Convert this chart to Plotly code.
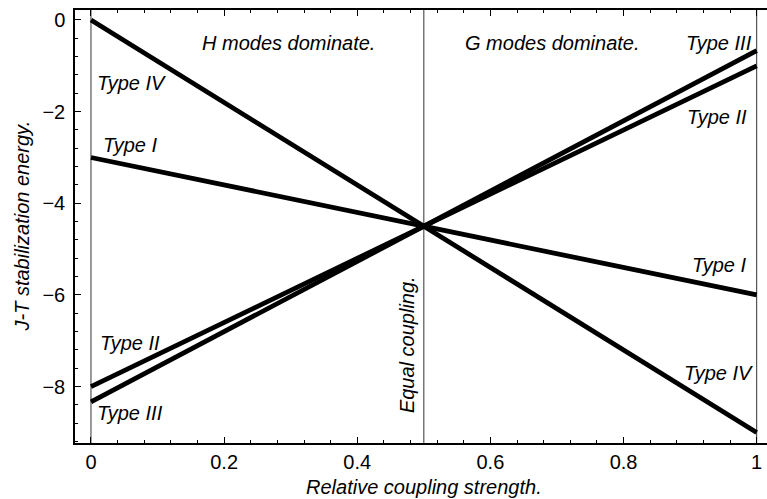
import plotly.graph_objects as go

# Data
x_vals = [0, 0.5, 1]
type_I = [-3, -4.5, -6]
type_II = [-8, -4.5, -1]
type_III = [-8.333, -4.5, -0.667]
type_IV = [0, -4.5, -9]
x_ticks = [0, 0.2, 0.4, 0.6, 0.8, 1]
x_tick_labels = ["0", "0.2", "0.4", "0.6", "0.8", "1"]
y_ticks = [0, -2, -4, -6, -8]
y_tick_labels = ["0", "\u22122", "\u22124", "\u22126", "\u22128"]
vlines_x = [0, 0.5, 1]

FONT = "Liberation Sans, Arial, sans-serif"

fig = go.Figure()

# Vertical reference lines
for vx in vlines_x:
    fig.add_trace(go.Scatter(x=[vx, vx], y=[0.218, -9.23], mode="lines",
                             line=dict(color="#333333", width=1),
                             hoverinfo="skip", showlegend=False))

for ys in [type_I, type_II, type_III, type_IV]:
    fig.add_trace(go.Scatter(x=x_vals, y=ys, mode="lines",
                             line=dict(color="black", width=4.8),
                             showlegend=False))

ann = [
    ("H modes dominate.", 0.296, -0.5, "center"),
    ("G modes dominate.", 0.694, -0.5, "center"),
    ("Type IV", 0.006, -1.375, "left"),
    ("Type I", 0.015, -2.73, "left"),
    ("Type II", 0.010, -7.05, "left"),
    ("Type III", 0.006, -8.58, "left"),
    ("Type III", 0.996, -0.5, "right"),
    ("Type II", 0.988, -2.12, "right"),
    ("Type I", 0.988, -5.35, "right"),
    ("Type IV", 0.997, -7.70, "right"),
]
for text, ax_, ay_, anc in ann:
    fig.add_annotation(x=ax_, y=ay_, text=f"<i>{text}</i>", showarrow=False,
                       xanchor=anc, yanchor="middle",
                       font=dict(family=FONT, size=20, color="black"))

fig.add_annotation(x=0.475, y=-7.09, text="<i>Equal coupling.</i>", showarrow=False,
                   textangle=-90, xanchor="center", yanchor="middle",
                   font=dict(family=FONT, size=20, color="black"))

# Axis titles as paper annotations
fig.add_annotation(x=0.504, y=-0.1016, xref="paper", yref="paper",
                   text="<i>Relative coupling strength.</i>", showarrow=False,
                   xanchor="center", yanchor="middle",
                   font=dict(family=FONT, size=20, color="black"))
fig.add_annotation(x=-0.078, y=0.5, xref="paper", yref="paper",
                   text="<i>J-T stabilization energy.</i>", showarrow=False,
                   textangle=-90, xanchor="center", yanchor="middle",
                   font=dict(family=FONT, size=20, color="black"))

fig.update_layout(
    width=767, height=499,
    margin=dict(l=75, r=0, t=10, b=56, autoexpand=False),
    plot_bgcolor="white", paper_bgcolor="white",
    font=dict(family=FONT, size=20, color="black"),
    xaxis=dict(range=[-0.024, 1.0155], tickvals=x_ticks, ticktext=x_tick_labels,
               ticks="inside", ticklen=6, tickwidth=1, tickcolor="black",
               showline=True, linecolor="black", linewidth=1.5, mirror="ticks",
               showgrid=False, zeroline=False, automargin=False,
               ticklabeloverflow="allow",
               minor=dict(dtick=0.04, tick0=0, ticks="inside", ticklen=3,
                          tickcolor="black", showgrid=False)),
    yaxis=dict(range=[-9.23, 0.218], tickvals=y_ticks, ticktext=y_tick_labels,
               ticks="inside", ticklen=6, tickwidth=1, tickcolor="black",
               showline=True, linecolor="black", linewidth=1.5, mirror=False,
               showgrid=False, zeroline=False, automargin=False,
               ticklabelstandoff=4,
               minor=dict(dtick=0.4, tick0=0, ticks="inside", ticklen=3,
                          tickcolor="black", showgrid=False)),
)

fig.write_html("out.html", config={"displayModeBar": False},
               post_script="document.body.style.margin='0';document.body.style.overflow='hidden';")
